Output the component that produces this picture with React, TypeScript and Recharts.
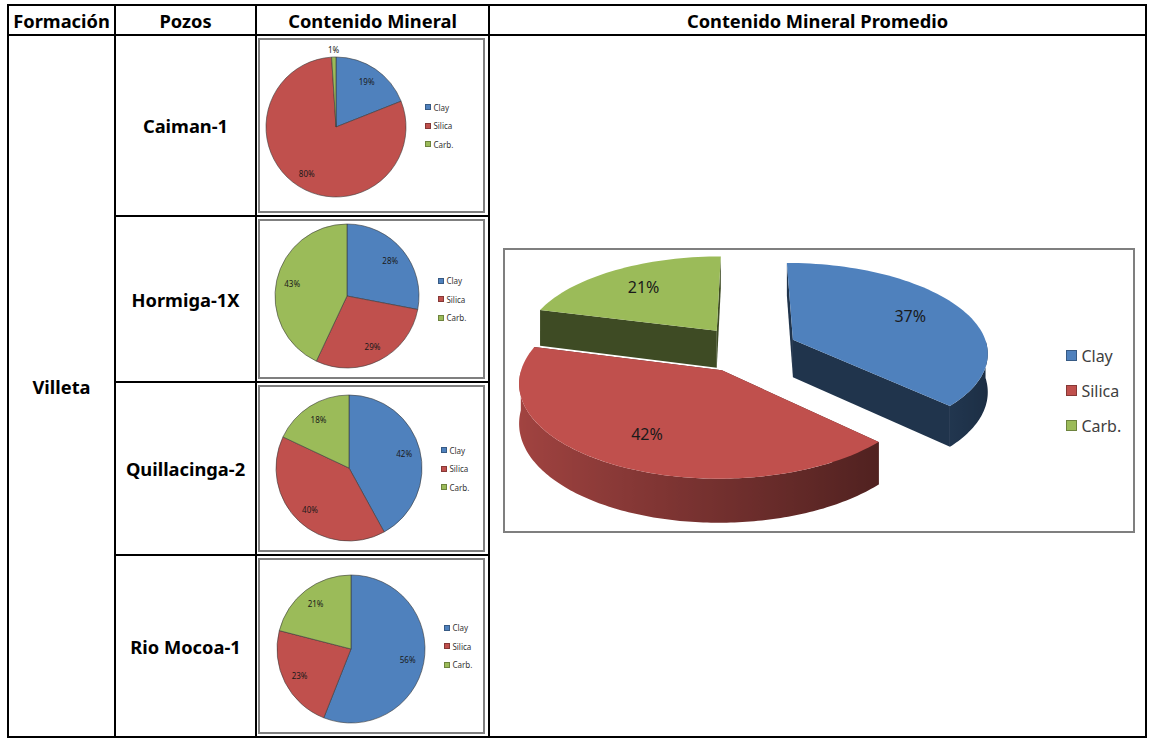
import React from 'react';
import { PieChart, Pie, Cell, Legend } from 'recharts';

const headers = ['Formación', 'Pozos', 'Contenido Mineral', 'Contenido Mineral Promedio'];
const formation = 'Villeta';
const wells = ['Caiman-1', 'Hormiga-1X', 'Quillacinga-2', 'Rio Mocoa-1'];
const minerals = ['Clay', 'Silica', 'Carb.'];
const caimanValues = [19, 80, 1];
const hormigaValues = [28, 29, 43];
const quillacingaValues = [42, 40, 18];
const rioMocoaValues = [56, 23, 21];
const averageValues = [37, 42, 21];

const wellValues = [caimanValues, hormigaValues, quillacingaValues, rioMocoaValues];
const COLORS = ['#4F81BD', '#C0504D', '#9BBB59'];
const FONT = '"Noto Sans", "Open Sans", sans-serif';
const RAD = Math.PI / 180;

// table grid
const colX = [8, 115, 256, 489, 1146];
const rowY = [5, 35, 216, 382, 555, 737];
// little pie placement inside each chart box: cx, cy, radius
const pieLayout = [
  [76, 87, 70],
  [87, 75, 72],
  [89, 81, 73],
  [91, 89, 74],
];

// fake 3d projection for the average pie
const TILT = 0.467;
const PERSP = 0.13;
const EXPLODE = 0.26;
const THICK = 0.195;

const toData = (values: number[]) => minerals.map((name, i) => ({ name, value: values[i] }));

const colorOf = (name: string) => COLORS[Math.max(0, minerals.indexOf(name))];

const shade = (hex: string, f: number) => {
  const n = parseInt((hex || '#888888').slice(1), 16);
  const c = [(n >> 16) & 255, (n >> 8) & 255, n & 255].map((v) => Math.max(0, Math.min(255, Math.round(v * f))));
  return `rgb(${c[0]},${c[1]},${c[2]})`;
};

const toPath = (pts: number[][]) => 'M' + pts.map((p) => `${p[0].toFixed(2)},${p[1].toFixed(2)}`).join('L') + 'Z';

const projector = (cx: number, cy: number, R: number, mid: number) => {
  const ox = EXPLODE * R * Math.cos(mid * RAD);
  const oz = -EXPLODE * R * Math.sin(mid * RAD);
  return (a: number, r: number, down: number) => {
    const X = ox + r * Math.cos(a * RAD);
    const Z = oz - r * Math.sin(a * RAD);
    const k = 1 + (PERSP * Z) / R;
    return [cx + X * k, cy + (Z * TILT + down) * k];
  };
};

const sliceColor = (p: any) => colorOf(p.name ?? p.payload?.name);
const wallShade = (a: number) => 0.6 - 0.25 * Math.cos(a * RAD);

const SideFaces = (p: any) => {
  const { cx, cy, outerRadius: R, startAngle, endAngle } = p;
  const fill = sliceColor(p);
  const at = projector(cx, cy, R, (startAngle + endAngle) / 2);
  const depth = THICK * R;
  const faces: React.ReactNode[] = [];
  [startAngle, endAngle].forEach((a: number, i: number) => {
    faces.push(
      <path key={'r' + i} d={toPath([at(a, 0, 0), at(a, R, 0), at(a, R, depth), at(a, 0, depth)])} fill={shade(fill, 0.4)} />
    );
  });
  // outer wall: only the part turned toward the viewer
  const n = Math.max(2, Math.ceil(Math.abs(endAngle - startAngle)));
  const runs: number[][] = [];
  let run: number[] = [];
  for (let i = 0; i <= n; i++) {
    const a = startAngle + ((endAngle - startAngle) * i) / n;
    const s = Math.sin(a * RAD);
    if (s <= 0.0001) run.push(a);
    else if (run.length) {
      runs.push(run);
      run = [];
    }
  }
  if (run.length > 1) runs.push(run);
  runs.forEach((angles, j) => {
    if (angles.length < 2) return;
    const top = angles.map((a) => at(a, R, 0));
    const bottom = angles.map((a) => at(a, R, depth)).reverse();
    const xs = top.map((q) => q[0]);
    const x0 = Math.min(...xs);
    const x1 = Math.max(...xs);
    const id = `wall-${p.index}-${j}`;
    const stops = angles
      .map((a, k) => ({ off: x1 > x0 ? (top[k][0] - x0) / (x1 - x0) : 0, c: shade(fill, wallShade(a)) }))
      .sort((u, v) => u.off - v.off);
    faces.push(
      <g key={id}>
        <defs>
          <linearGradient id={id} gradientUnits="userSpaceOnUse" x1={x0} y1={0} x2={x1} y2={0}>
            {stops.map((s, k) => (
              <stop key={k} offset={s.off} stopColor={s.c} />
            ))}
          </linearGradient>
        </defs>
        <path d={toPath([...top, ...bottom])} fill={`url(#${id})`} />
      </g>
    );
  });
  return <g>{faces}</g>;
};

const TopFace = (p: any) => {
  const { cx, cy, outerRadius: R, startAngle, endAngle } = p;
  const at = projector(cx, cy, R, (startAngle + endAngle) / 2);
  const n = Math.max(2, Math.ceil(Math.abs(endAngle - startAngle) / 2));
  const pts = [at(0, 0, 0)];
  for (let i = 0; i <= n; i++) pts.push(at(startAngle + ((endAngle - startAngle) * i) / n, R, 0));
  return <path d={toPath(pts)} fill={sliceColor(p)} />;
};

const bigLabel = (p: any) => {
  const { cx, cy, outerRadius: R, midAngle, percent } = p;
  const [x, y] = projector(cx, cy, R, midAngle)(midAngle, 0.7 * R, 0);
  return (
    <text x={x} y={y} textAnchor="middle" dominantBaseline="central" fontSize={16} fill="#1a1a1a" fontFamily={FONT}>
      {`${Math.round(percent * 100)}%`}
    </text>
  );
};

const smallLabel = (p: any) => {
  const { cx, cy, midAngle, outerRadius, percent } = p;
  const r = percent < 0.05 ? outerRadius + 8 : outerRadius * 0.78;
  const x = cx + r * Math.cos(-midAngle * RAD);
  const y = cy + r * Math.sin(-midAngle * RAD);
  return (
    <text x={x} y={y} textAnchor="middle" dominantBaseline="central" fontSize={8} fill="#1a1a1a" fontFamily={FONT}>
      {`${Math.round(percent * 100)}%`}
    </text>
  );
};

const makeLegend = (box: number, gap: number, fontSize: number, color: string) => () => (
  <div style={{ fontFamily: FONT }}>
    {minerals.map((name, i) => (
      <div key={name} style={{ display: 'flex', alignItems: 'center', height: gap }}>
        <span style={{ width: box, height: box, background: COLORS[i], border: `1px solid ${shade(COLORS[i], 0.7)}`, boxSizing: 'border-box', marginRight: box * 0.4 }} />
        <span style={{ fontSize, color }}>{name}</span>
      </div>
    ))}
  </div>
);

const smallLegend = makeLegend(6, 18.5, 8, '#333');
const bigLegend = makeLegend(11, 35, 16, '#404040');

const SmallPie = ({ values, width, height, layout }: { values: number[]; width: number; height: number; layout: number[] }) => {
  const [cx, cy, r] = layout;
  const data = toData(values);
  return (
    <PieChart width={width} height={height} margin={{ top: 0, right: 0, bottom: 0, left: 0 }}>
      <Pie
        data={data}
        dataKey="value"
        nameKey="name"
        cx={cx}
        cy={cy}
        outerRadius={r}
        startAngle={90}
        endAngle={-270}
        stroke="#3a3a3a"
        strokeWidth={0.6}
        label={smallLabel}
        labelLine={false}
        isAnimationActive={false}
      >
        {data.map((d, i) => (
          <Cell key={d.name} fill={COLORS[i]} />
        ))}
      </Pie>
      <Legend layout="vertical" verticalAlign="middle" align="right" content={smallLegend} wrapperStyle={{ left: cx + r + 19 }} />
    </PieChart>
  );
};

const AveragePie = ({ width, height }: { width: number; height: number }) => {
  const data = toData(averageValues);
  const common = {
    data,
    dataKey: 'value',
    nameKey: 'name',
    cx: 242,
    cy: 99,
    outerRadius: 195,
    startAngle: 90,
    endAngle: -270,
    stroke: 'none',
    isAnimationActive: false,
  };
  return (
    <PieChart width={width} height={height} margin={{ top: 0, right: 0, bottom: 0, left: 0 }}>
      <Pie {...common} shape={SideFaces} inactiveShape={SideFaces} activeShape={SideFaces}>
        {data.map((d, i) => (
          <Cell key={d.name} fill={COLORS[i]} />
        ))}
      </Pie>
      <Pie {...common} shape={TopFace} inactiveShape={TopFace} activeShape={TopFace} label={bigLabel} labelLine={false}>
        {data.map((d, i) => (
          <Cell key={d.name} fill={COLORS[i]} />
        ))}
      </Pie>
      <Legend layout="vertical" verticalAlign="middle" align="right" content={bigLegend} wrapperStyle={{ left: 561 }} />
    </PieChart>
  );
};

const line = (key: string, x: number, y: number, w: number, h: number) => (
  <div key={key} style={{ position: 'absolute', left: x, top: y, width: w, height: h, background: '#000' }} />
);

const cellText = (key: string, text: string, x0: number, x1: number, y0: number, y1: number) => (
  <div
    key={key}
    style={{
      position: 'absolute',
      left: x0,
      top: y0,
      width: x1 - x0,
      height: y1 - y0,
      display: 'flex',
      alignItems: 'center',
      justifyContent: 'center',
      fontWeight: 700,
      fontSize: 18.3,
      color: '#000',
    }}
  >
    {text}
  </div>
);

export default function App() {
  const lines: React.ReactNode[] = [];
  lines.push(line('top', colX[0] - 1, rowY[0] - 1, colX[4] - colX[0] + 2, 2));
  lines.push(line('head', colX[0] - 1, rowY[1] - 1, colX[4] - colX[0] + 2, 2));
  lines.push(line('bottom', colX[0] - 1, rowY[5] - 1, colX[4] - colX[0] + 2, 2));
  colX.forEach((x, i) => lines.push(line('c' + i, x - 1, rowY[0] - 1, 2, rowY[5] - rowY[0] + 2)));
  [2, 3, 4].forEach((r) => lines.push(line('r' + r, colX[1], rowY[r] - 1, colX[3] - colX[1], 1.5)));

  return (
    <div style={{ position: 'absolute', left: 0, top: 0, width: 1151, height: 738, background: '#fff', fontFamily: FONT, overflow: 'hidden' }}>
      {headers.map((h, i) => cellText('h' + i, h, colX[i], colX[i + 1], rowY[0], rowY[1]))}
      {cellText('form', formation, colX[0], colX[1], rowY[1], rowY[5])}
      {wells.map((w, i) => cellText('w' + i, w, colX[1], colX[2], rowY[i + 1], rowY[i + 2]))}
      {wells.map((w, i) => {
        const top = rowY[i + 1] + 3;
        const h = rowY[i + 2] - rowY[i + 1] - 6;
        return (
          <div
            key={'chart' + w}
            style={{ position: 'absolute', left: colX[2] + 2, top, width: 227, height: h, border: '2px solid #7f7f7f', boxSizing: 'border-box', background: '#fff' }}
          >
            <SmallPie values={wellValues[i]} width={223} height={h - 4} layout={pieLayout[i]} />
          </div>
        );
      })}
      <div style={{ position: 'absolute', left: 503, top: 248, width: 632, height: 285, border: '2px solid #7f7f7f', boxSizing: 'border-box', background: '#fff' }}>
        <AveragePie width={628} height={281} />
      </div>
      {lines}
    </div>
  );
}
